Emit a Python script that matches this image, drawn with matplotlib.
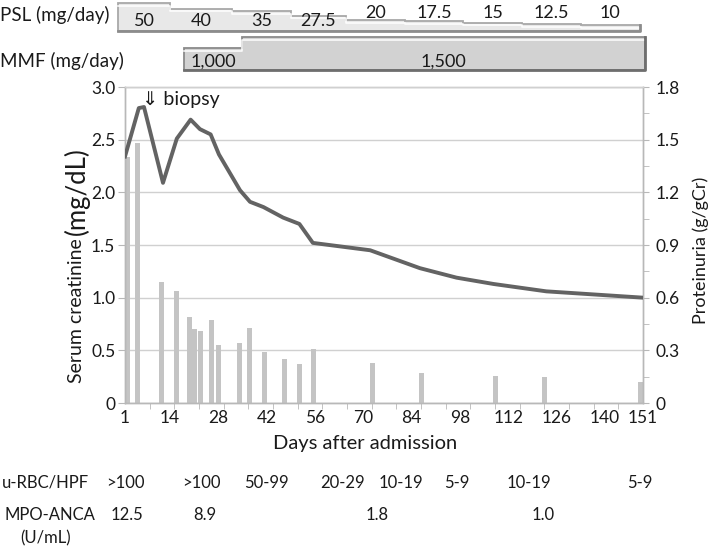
import numpy as np
import matplotlib
matplotlib.use("Agg")
import matplotlib.pyplot as plt
import matplotlib.transforms as mtransforms

plt.rcParams['font.family'] = ['Lato', 'DejaVu Sans']

# serum creatinine (mg/dL), left axis
cr_days = [1, 5, 6.5, 12, 16, 20, 22.7, 25.8, 28.2, 34.3, 37.2, 41.1, 46.8, 51.5, 55.4, 72, 86.4, 97, 107.7, 123, 151]
cr_vals = [2.34, 2.80, 2.81, 2.09, 2.51, 2.69, 2.60, 2.55, 2.36, 2.02, 1.91, 1.86, 1.76, 1.70, 1.52, 1.45, 1.28, 1.19, 1.13, 1.06, 1.00]

# proteinuria (g/gCr), right axis
pu_days = [1.7, 4.6, 11.6, 15.9, 19.8, 21.1, 23.0, 26.1, 28.0, 34.2, 37.1, 41.3, 47.3, 51.4, 55.5, 72.7, 86.9, 108.4, 122.5, 150.3]
pu_vals = [1.40, 1.48, 0.69, 0.64, 0.49, 0.42, 0.41, 0.47, 0.33, 0.34, 0.43, 0.29, 0.25, 0.22, 0.31, 0.23, 0.17, 0.155, 0.15, 0.12]

# drugs
psl_edges = [-1, 14, 32, 49, 65, 82, 99, 116, 133, 150]
psl_doses = [50, 40, 35, 27.5, 20, 17.5, 15, 12.5, 10]
psl_labels = ['50', '40', '35', '27.5', '20', '17.5', '15', '12.5', '10']
mmf_edges = [18, 35, 151.5]
mmf_doses = [1000, 1500]
mmf_labels = ['1,000', '1,500']

# urinalysis / ANCA
rbc_days = [1, 23, 42, 64, 81, 97, 118, 150]
rbc_vals = ['>100', '>100', '50-99', '20-29', '10-19', '5-9', '10-19', '5-9']
anca_days = [1.5, 24, 74, 122]
anca_vals = ['12.5', '8.9', '1.8', '1.0']

biopsy_day = 5.8

x_ticks = [1, 14, 28, 42, 56, 70, 84, 98, 112, 126, 140, 151]
left_ticks = [0, 0.5, 1.0, 1.5, 2.0, 2.5, 3.0]
right_ticks = [0, 0.3, 0.6, 0.9, 1.2, 1.5, 1.8]

W, H = 708, 546
def fx(px):
    return px / W
def fy(py):
    return 1 - py / H

fig = plt.figure(figsize=(W / 100, H / 100), dpi=100)
txt = '#1a1a1a'

L, R, T, B = 125, 643, 87, 403
ax2 = fig.add_axes([fx(L), fy(B), (R - L) / W, (B - T) / H])
ax = ax2.twinx()
ax.set_zorder(ax2.get_zorder() + 1)
ax.patch.set_visible(False)

gridc = '#d0d0d0'
spc = '#b8b8b8'

# bars (proteinuria)
ax2.bar(pu_days, pu_vals, width=1.45, color='#c4c4c4', zorder=2)
ax2.set_ylim(0, 1.8)
ax2.set_yticks(right_ticks)
ax2.set_yticklabels(['0' if v == 0 else '%.1f' % v for v in right_ticks])
ax2.set_yticks(np.array(right_ticks[:-1]) + 0.15, minor=True)
ax2.yaxis.tick_right()
ax2.grid(axis='y', color=gridc, lw=1.0, zorder=0)
ax2.set_axisbelow(True)

# line (creatinine)
ax.plot(cr_days, cr_vals, color='#636363', lw=2.8, solid_joinstyle='round', zorder=5)
ax.set_ylim(0, 3.0)
ax.yaxis.tick_left()
ax.set_yticks(left_ticks)
ax.set_yticklabels(['0' if v == 0 else '%.1f' % v for v in left_ticks])

ax.set_xlim(1, 151)
ax2.set_xlim(1, 151)
ax2.set_xticks(x_ticks)
ax2.set_xticklabels([str(t) for t in x_ticks])
ax2.set_xticks(np.linspace(1, 151, 22), minor=True)

for a in (ax, ax2):
    for s in a.spines.values():
        s.set_color(spc)
        s.set_linewidth(1.0)
    a.spines['top'].set_color(gridc)

ax.tick_params(axis='y', which='both', length=5, color=spc, labelsize=12.5, pad=2, labelcolor=txt)
ax2.tick_params(axis='y', which='both', length=4, color=spc, labelsize=12.5, pad=5, labelcolor=txt, left=False, right=True)
ax2.tick_params(axis='x', which='major', length=0, labelsize=12.5, pad=5, labelcolor=txt)
ax2.tick_params(axis='x', which='minor', length=4, color=spc)

ax.text(biopsy_day, 2.88, '\u21d3 biopsy', fontsize=14, va='center', ha='left', color=txt)

# axis labels
fig.text(fx(77), fy(383), 'Serum creatinine', rotation=90, ha='center', va='bottom', fontsize=14, color=txt)
fig.text(fx(77), fy(147), '(mg/dL)', rotation=90, ha='center', va='top', fontsize=18.5, color=txt)
fig.text(fx(701), fy(250), 'Proteinuria (g/gCr)', rotation=90, ha='center', va='center', fontsize=13, color=txt)
fig.text(fx(365), fy(443), 'Days after admission', ha='center', va='center', fontsize=14.5, color=txt)

# drug bars on top
def step_bar(axd, edges, doses, face, edge, shade):
    xs = [edges[0]]
    ys = [0]
    for i, d in enumerate(doses):
        xs += [edges[i], edges[i + 1]]
        ys += [d, d]
    xs.append(edges[-1])
    ys.append(0)
    axd.fill(xs, ys, facecolor=face, edgecolor=edge, lw=1.3, clip_on=False)
    top = axd.get_ylim()[1]
    # light highlight just below the top edge
    hx, hy = [], []
    for i, d in enumerate(doses):
        hx += [edges[i], edges[i + 1]]
        hy += [d - 0.1 * top, d - 0.1 * top]
    axd.plot(hx, hy, color='white', lw=1.2, clip_on=False, alpha=0.9)
    # darker bottom and right edge
    axd.plot([edges[0], edges[-1], edges[-1]], [0, 0, doses[-1]], color=shade, lw=2.0, clip_on=False)

psl_ax = fig.add_axes([fx(L), fy(31), (R - L) / W, 28 / H], sharex=ax2)
psl_ax.set_ylim(0, 50)
psl_ax.axis('off')
step_bar(psl_ax, psl_edges, psl_doses, '#e8e8e8', '#a8a8a8', '#8c8c8c')
for i, lab in enumerate(psl_labels):
    xc = (psl_edges[i] + psl_edges[i + 1]) / 2
    y = 17 if psl_doses[i] >= 27.5 else 32
    psl_ax.text(xc, y, lab, ha='center', va='center', fontsize=13, color=txt, clip_on=False)

mmf_ax = fig.add_axes([fx(L), fy(70), (R - L) / W, 33 / H], sharex=ax2)
mmf_ax.set_ylim(0, 1500)
mmf_ax.axis('off')
step_bar(mmf_ax, mmf_edges, mmf_doses, '#d2d2d2', '#8a8a8a', '#6e6e6e')
for i, lab in enumerate(mmf_labels):
    xc = (mmf_edges[i] + mmf_edges[i + 1]) / 2
    mmf_ax.text(xc, 380, lab, ha='center', va='center', fontsize=13, color=txt, clip_on=False)

fig.text(0, fy(15), 'PSL (mg/day)', ha='left', va='center', fontsize=13.5, color=txt)
fig.text(0, fy(61), 'MMF (mg/day)', ha='left', va='center', fontsize=13.5, color=txt)

# bottom table
tr = mtransforms.blended_transform_factory(ax2.transData, fig.transFigure)
fig.text(fx(2), fy(483), 'u-RBC/HPF', ha='left', va='center', fontsize=12, color=txt)
fig.text(fx(4), fy(515), 'MPO-ANCA', ha='left', va='center', fontsize=12, color=txt)
fig.text(fx(46), fy(538), '(U/mL)', ha='center', va='center', fontsize=12, color=txt)
for d, v in zip(rbc_days, rbc_vals):
    fig.text(d, fy(483), v, transform=tr, ha='center', va='center', fontsize=12, color=txt)
for d, v in zip(anca_days, anca_vals):
    fig.text(d, fy(515), v, transform=tr, ha='center', va='center', fontsize=12, color=txt)

fig.savefig('out.png', dpi=100)
